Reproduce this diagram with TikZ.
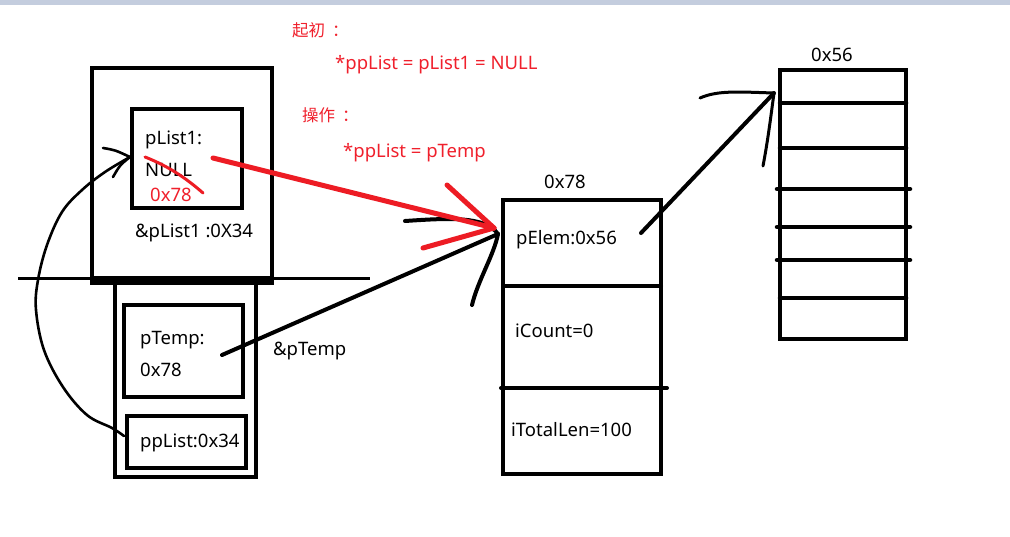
\documentclass[tikz,border=0pt]{standalone}
\usepackage{fontspec}
\setmainfont{Noto Sans}
\newfontfamily\cjk{Noto Sans CJK SC}
\definecolor{pred}{RGB}{237,28,36}
\definecolor{tred}{RGB}{240,32,44}
\definecolor{topbar}{RGB}{196,205,222}
\begin{document}
\begin{tikzpicture}[x=1pt,y=-1pt,
  box/.style={draw=black,line width=4pt,inner sep=0pt,outer sep=0pt,anchor=north west},
  lbl/.style={inner sep=0pt,anchor=west,font=\fontsize{18.5}{22}\selectfont},
  rlbl/.style={lbl,text=tred},
  cjklbl/.style={rlbl,font=\cjk\fontsize{16.5}{20}\selectfont},
  ink/.style={line width=4pt,line cap=round,line join=round},
  thin/.style={line width=2.6pt,line cap=round,line join=round},
  redink/.style={line width=5pt,draw=pred,line cap=round,line join=round}]
\useasboundingbox (0,0) rectangle (1010,536);
\fill[white] (0,0) rectangle (1010,536);
\fill[topbar] (0,0) rectangle (1010,5);

% stack frame boxes
\node[box,minimum width=180pt,minimum height=212pt] (outer1) at (92,68) {};
\node[box,minimum width=110pt,minimum height=99pt] (plist1) at (132,109) {};
\node[box,line width=3.5pt,minimum width=141pt,minimum height=196pt] (outer2) at (115,281) {};
\node[box,minimum width=119pt,minimum height=92pt] (ptemp) at (124,305) {};
\node[box,minimum width=119pt,minimum height=52pt] (pplist) at (127,416) {};
\fill (90,276) rectangle (274,285);
\coordinate (hlA) at (18,278);
\coordinate (hlB) at (370,278);
\draw[line width=3pt] (hlA) -- (hlB);

% struct 0x78
\node[box,minimum width=158pt,minimum height=274pt] (st) at (503,200) {};
\coordinate (d1a) at (503,286); \coordinate (d1b) at (661,286);
\coordinate (d2a) at (501,388); \coordinate (d2b) at (667,388);
\draw[ink] (d1a) -- (d1b);
\draw[ink] (d2a) -- (d2b);

% array 0x56
\node[box,line width=4.5pt,minimum width=126pt,minimum height=269pt] (arr) at (780,70) {};
\foreach \yy/\xa/\xb in {103/780/906,148/780/906,189/777/910,227/777/910,260/777/910,298/780/906}
  \draw[line width=4.5pt,line cap=round] (\xa,\yy) -- (\xb,\yy);

% labels
\node[lbl] (t1) at (145,140) {pList1:};
\node[lbl] (t2) at (145,170) {NULL};
\node[rlbl] (t3) at (150,195) {0x78};
\node[lbl] (t4) at (135,233) {\&pList1 :0X34};
\node[lbl] (t5) at (140,340) {pTemp:};
\node[lbl] (t6) at (140,370) {0x78};
\node[lbl] (t7) at (140,443) {ppList:0x34};
\node[lbl] (t8) at (273,351) {\&pTemp};
\node[lbl] (t9) at (544,182) {0x78};
\node[lbl] (t10) at (516,240) {pElem:0x56};
\node[lbl] (t11) at (515,331) {iCount=0};
\node[lbl] (t12) at (511,430) {iTotalLen=100};
\node[lbl] (t13) at (811,55) {0x56};
\node[cjklbl] (r1) at (292,30) {起初\kern7pt：};
\node[rlbl] (r2) at (335,65) {*ppList = pList1 = NULL};
\node[cjklbl] (r3) at (302,115) {操作\kern7pt：};
\node[rlbl] (r4) at (343,153) {*ppList = pTemp};

% black arrow pTemp -> struct
\coordinate (pt0) at (222,355);
\coordinate (pt1) at (498,234);
\draw[ink] (pt0) -- (pt1);
\coordinate (bh1) at (405,221);
\coordinate (bh2) at (472,305);
\draw[ink] (bh1) .. controls (450,218) and (485,216) .. (pt1);
\draw[ink] (bh2) .. controls (478,280) and (494,255) .. (pt1);

% red arrow
\coordinate (rs) at (213,158);
\coordinate (re) at (494,228);
\coordinate (rh1) at (447,185);
\coordinate (rh2) at (423,248);
\draw[redink] (rs) -- (re);
\draw[redink] (rh1) -- (re);
\draw[redink] (rh2) -- (re);
\coordinate (x1) at (145,157);
\coordinate (x2) at (203,193);
\draw[line width=3pt,draw=pred,line cap=round] (x1) .. controls (168,166) and (186,178) .. (x2);

% curve ppList -> pList1
\coordinate (cs) at (124,436);
\coordinate (ce) at (130,157);
\draw[thin] plot[smooth,tension=0.6] coordinates {(124,436) (112,428) (87,415) (63,387) (44,350) (36,310) (38,280) (47,245) (62,212) (82,190) (105,172) (130,157)};
\coordinate (ah1) at (103,148);
\coordinate (ah2) at (113,177);
\draw[thin] (ah1) .. controls (115,150) .. (ce);
\draw[thin] (ah2) .. controls (120,165) .. (ce);

% struct -> array
\coordinate (sa) at (641,233);
\coordinate (sb) at (774,93);
\draw[ink] (sa) -- (sb);
\coordinate (sh1) at (700,98);
\coordinate (sh2) at (763,166);
\draw[thin,line width=3pt] (sh1) .. controls (718,90) and (740,92) .. (sb);
\draw[thin,line width=3pt] (sh2) .. controls (768,140) and (771,115) .. (sb);
\end{tikzpicture}
\end{document}
